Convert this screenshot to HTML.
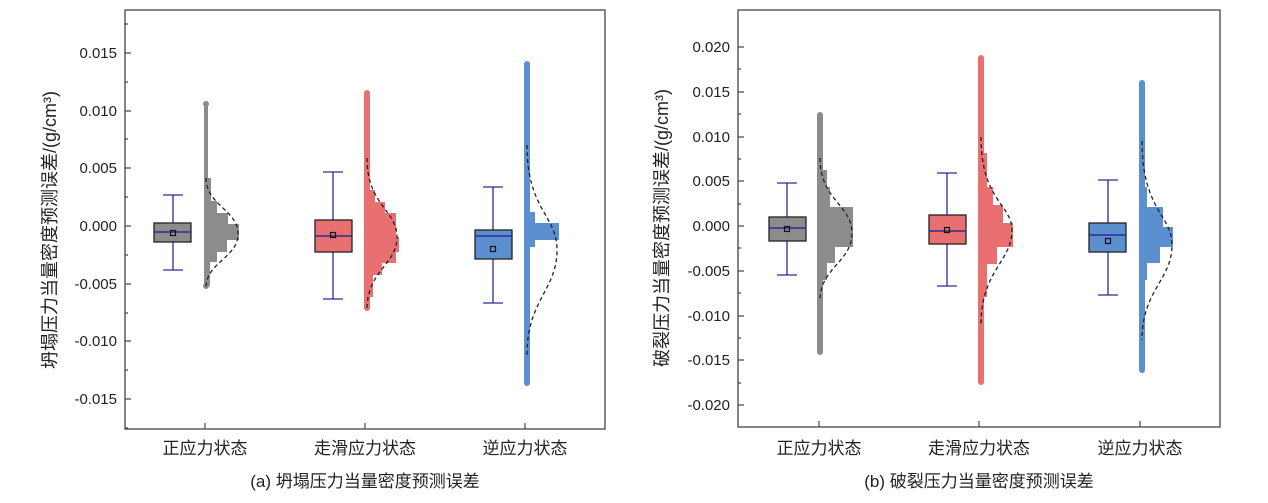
<!DOCTYPE html>
<html><head><meta charset="utf-8"><style>
html,body{margin:0;padding:0;background:#fff;}
svg{display:block;}
text{font-family:"Liberation Sans","Noto Sans CJK SC",sans-serif;fill:#222;}
.d{fill:none;stroke:#222;stroke-dasharray:4,3;stroke-width:1.3;}
</style></head><body>
<svg width="1268" height="503" viewBox="0 0 1268 503" xmlns="http://www.w3.org/2000/svg">
<!-- LEFT PANEL -->
<rect x="125" y="10" width="480" height="419" fill="none" stroke="#444" stroke-width="1.3"/>
<g stroke="#444" stroke-width="1.2">
<line x1="125" y1="53" x2="131" y2="53"/><line x1="125" y1="111" x2="131" y2="111"/><line x1="125" y1="168" x2="131" y2="168"/><line x1="125" y1="226" x2="131" y2="226"/><line x1="125" y1="284" x2="131" y2="284"/><line x1="125" y1="341" x2="131" y2="341"/><line x1="125" y1="399" x2="131" y2="399"/>
<line x1="125" y1="24" x2="128" y2="24"/><line x1="125" y1="82" x2="128" y2="82"/><line x1="125" y1="139" x2="128" y2="139"/><line x1="125" y1="197" x2="128" y2="197"/><line x1="125" y1="255" x2="128" y2="255"/><line x1="125" y1="313" x2="128" y2="313"/><line x1="125" y1="370" x2="128" y2="370"/><line x1="125" y1="428" x2="128" y2="428"/>
<line x1="205" y1="429" x2="205" y2="423"/><line x1="365" y1="429" x2="365" y2="423"/><line x1="525" y1="429" x2="525" y2="423"/>
</g>
<g font-size="15" text-anchor="end">
<text x="117" y="58">0.015</text><text x="117" y="116">0.010</text><text x="117" y="173">0.005</text><text x="117" y="231">0.000</text><text x="117" y="289">-0.005</text><text x="117" y="346">-0.010</text><text x="117" y="404">-0.015</text>
</g>
<text transform="translate(56,230) rotate(-90)" font-size="18" text-anchor="middle">坍塌压力当量密度预测误差/(g/cm³)</text>
<g font-size="17" text-anchor="middle">
<text x="205" y="454">正应力状态</text><text x="365" y="454">走滑应力状态</text><text x="525" y="454">逆应力状态</text>
<text x="365" y="487">(a) 坍塌压力当量密度预测误差</text>
</g>
<!-- gray L -->
<g fill="#8c8c8c"><circle cx="206" cy="104" r="3"/><circle cx="206" cy="286" r="3"/></g>
<path d="M204,104 L208,104 L208,178 L211,178 L211,201 L217,201 L217,213 L228,213 L228,224 L239,224 L239,240 L227,240 L227,252 L217,252 L217,262 L210,262 L210,286 L204,286 Z" fill="#8c8c8c"/>
<path class="d" d="M206,178 C206,205 238,210 238,234 C238,258 206,262 206,288"/>
<g stroke="#2b2f8f" stroke-width="1.3"><line x1="173" y1="195" x2="173" y2="270"/><line x1="163" y1="195" x2="183" y2="195"/><line x1="163" y1="270" x2="183" y2="270"/></g>
<rect x="154" y="223" width="37" height="19" fill="#8c8c8c" stroke="#222" stroke-width="1.3"/>
<line x1="154" y1="232" x2="191" y2="232" stroke="#2b2f8f" stroke-width="1.5"/>
<rect x="170.5" y="230.5" width="5" height="5" fill="none" stroke="#111" stroke-width="1.2"/>
<!-- red L -->
<g fill="#e87070"><circle cx="367" cy="93" r="3"/><circle cx="367" cy="308" r="3"/></g>
<path d="M364,93 L370,93 L370,190 L375,190 L375,202 L385,202 L385,213 L396,213 L396,237 L399,237 L399,252 L396,252 L396,263 L382,263 L382,275 L373,275 L373,297 L370,297 L370,308 L364,308 Z" fill="#e87070"/>
<path class="d" d="M367,158 C367,205 397,210 397,237 C397,265 367,270 367,310"/>
<g stroke="#2b2f8f" stroke-width="1.3"><line x1="333" y1="172" x2="333" y2="299"/><line x1="323" y1="172" x2="343" y2="172"/><line x1="323" y1="299" x2="343" y2="299"/></g>
<rect x="315" y="220" width="37" height="32" fill="#e87070" stroke="#222" stroke-width="1.3"/>
<line x1="315" y1="236" x2="352" y2="236" stroke="#2b2f8f" stroke-width="1.5"/>
<rect x="330.5" y="232.5" width="5" height="5" fill="none" stroke="#111" stroke-width="1.2"/>
<!-- blue L -->
<g fill="#5b8fd0"><circle cx="527" cy="64" r="3"/><circle cx="527" cy="383" r="3"/></g>
<path d="M524,64 L530,64 L530,212 L535,212 L535,223 L559,223 L559,240 L535,240 L535,247 L530,247 L530,383 L524,383 Z" fill="#5b8fd0"/>
<path class="d" d="M527,145 C527,210 557,215 557,250 C557,290 527,300 527,355"/>
<g stroke="#2b2f8f" stroke-width="1.3"><line x1="493" y1="187" x2="493" y2="303"/><line x1="483" y1="187" x2="503" y2="187"/><line x1="483" y1="303" x2="503" y2="303"/></g>
<rect x="475" y="230" width="37" height="29" fill="#5b8fd0" stroke="#222" stroke-width="1.3"/>
<line x1="475" y1="236" x2="512" y2="236" stroke="#2b2f8f" stroke-width="1.5"/>
<rect x="490.5" y="246.5" width="5" height="5" fill="none" stroke="#111" stroke-width="1.2"/>

<!-- RIGHT PANEL -->
<rect x="738" y="10" width="482" height="417" fill="none" stroke="#444" stroke-width="1.3"/>
<g stroke="#444" stroke-width="1.2">
<line x1="738" y1="47" x2="744" y2="47"/><line x1="738" y1="92" x2="744" y2="92"/><line x1="738" y1="137" x2="744" y2="137"/><line x1="738" y1="181" x2="744" y2="181"/><line x1="738" y1="226" x2="744" y2="226"/><line x1="738" y1="271" x2="744" y2="271"/><line x1="738" y1="316" x2="744" y2="316"/><line x1="738" y1="360" x2="744" y2="360"/><line x1="738" y1="405" x2="744" y2="405"/>
<line x1="738" y1="69" x2="741" y2="69"/><line x1="738" y1="114" x2="741" y2="114"/><line x1="738" y1="159" x2="741" y2="159"/><line x1="738" y1="204" x2="741" y2="204"/><line x1="738" y1="248" x2="741" y2="248"/><line x1="738" y1="293" x2="741" y2="293"/><line x1="738" y1="338" x2="741" y2="338"/><line x1="738" y1="383" x2="741" y2="383"/>
<line x1="819" y1="427" x2="819" y2="421"/><line x1="979" y1="427" x2="979" y2="421"/><line x1="1140" y1="427" x2="1140" y2="421"/>
</g>
<g font-size="15" text-anchor="end">
<text x="730" y="52">0.020</text><text x="730" y="97">0.015</text><text x="730" y="142">0.010</text><text x="730" y="186">0.005</text><text x="730" y="231">0.000</text><text x="730" y="276">-0.005</text><text x="730" y="321">-0.010</text><text x="730" y="365">-0.015</text><text x="730" y="410">-0.020</text>
</g>
<text transform="translate(668,228) rotate(-90)" font-size="18" text-anchor="middle">破裂压力当量密度预测误差/(g/cm³)</text>
<g font-size="17" text-anchor="middle">
<text x="819" y="454">正应力状态</text><text x="979" y="454">走滑应力状态</text><text x="1140" y="454">逆应力状态</text>
<text x="979" y="487">(b) 破裂压力当量密度预测误差</text>
</g>
<!-- gray R -->
<g fill="#8c8c8c"><circle cx="820" cy="115" r="3"/><circle cx="820" cy="352" r="3"/></g>
<path d="M817,115 L823,115 L823,170 L827,170 L827,187 L830,187 L830,207 L853,207 L853,247 L835,247 L835,263 L827,263 L827,280 L823,280 L823,352 L817,352 Z" fill="#8c8c8c"/>
<path class="d" d="M820,158 C820,200 852,205 852,233 C852,262 820,268 820,300"/>
<g stroke="#2b2f8f" stroke-width="1.3"><line x1="787" y1="183" x2="787" y2="275"/><line x1="777" y1="183" x2="797" y2="183"/><line x1="777" y1="275" x2="797" y2="275"/></g>
<rect x="769" y="217" width="37" height="24" fill="#8c8c8c" stroke="#222" stroke-width="1.3"/>
<line x1="769" y1="228" x2="806" y2="228" stroke="#2b2f8f" stroke-width="1.5"/>
<rect x="784.5" y="226.5" width="5" height="5" fill="none" stroke="#111" stroke-width="1.2"/>
<!-- red R -->
<g fill="#e87070"><circle cx="981" cy="58" r="3"/><circle cx="981" cy="382" r="3"/></g>
<path d="M978,58 L984,58 L984,153 L987,153 L987,187 L993,187 L993,205 L1003,205 L1003,223 L1013,223 L1013,247 L997,247 L997,264 L987,264 L987,297 L984,297 L984,382 L978,382 Z" fill="#e87070"/>
<path class="d" d="M981,137 C981,200 1012,205 1012,230 C1012,262 981,270 981,325"/>
<g stroke="#2b2f8f" stroke-width="1.3"><line x1="947" y1="173" x2="947" y2="286"/><line x1="937" y1="173" x2="957" y2="173"/><line x1="937" y1="286" x2="957" y2="286"/></g>
<rect x="929" y="215" width="37" height="29" fill="#e87070" stroke="#222" stroke-width="1.3"/>
<line x1="929" y1="231" x2="966" y2="231" stroke="#2b2f8f" stroke-width="1.5"/>
<rect x="944.5" y="227.5" width="5" height="5" fill="none" stroke="#111" stroke-width="1.2"/>
<!-- blue R -->
<g fill="#5b8fd0"><circle cx="1142" cy="83" r="3"/><circle cx="1142" cy="370" r="3"/></g>
<path d="M1139,83 L1145,83 L1145,187 L1147,187 L1147,207 L1163,207 L1163,227 L1173,227 L1173,247 L1160,247 L1160,263 L1147,263 L1147,280 L1145,280 L1145,370 L1139,370 Z" fill="#5b8fd0"/>
<path class="d" d="M1142,141 C1142,210 1172,215 1172,245 C1172,280 1142,290 1142,340"/>
<g stroke="#2b2f8f" stroke-width="1.3"><line x1="1108" y1="180" x2="1108" y2="295"/><line x1="1098" y1="180" x2="1118" y2="180"/><line x1="1098" y1="295" x2="1118" y2="295"/></g>
<rect x="1089" y="223" width="37" height="29" fill="#5b8fd0" stroke="#222" stroke-width="1.3"/>
<line x1="1089" y1="235" x2="1126" y2="235" stroke="#2b2f8f" stroke-width="1.5"/>
<rect x="1105.5" y="238.5" width="5" height="5" fill="none" stroke="#111" stroke-width="1.2"/>
</svg>
</body></html>
